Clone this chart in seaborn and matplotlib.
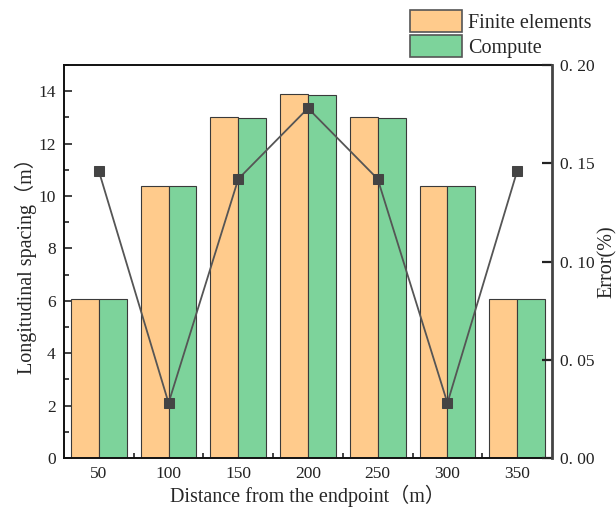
import matplotlib
matplotlib.use("Agg")
import matplotlib.pyplot as plt
import seaborn as sns
import pandas as pd
import numpy as np
from matplotlib.ticker import MultipleLocator, FixedLocator
from matplotlib.patches import Patch

# ---- data ----
distances = [50, 100, 150, 200, 250, 300, 350]
finite_elements = [6.05, 10.39, 13.00, 13.88, 13.00, 10.39, 6.05]
compute = [6.05, 10.38, 12.98, 13.85, 12.98, 10.38, 6.05]
error_pct = [0.146, 0.028, 0.142, 0.178, 0.142, 0.028, 0.146]
series_names = ["Finite elements", "Compute"]
right_ticks = [0.00, 0.05, 0.10, 0.15, 0.20]
right_tick_labels = ["0. 00", "0. 05", "0. 10", "0. 15", "0. 20"]

sns.set_style("ticks")
plt.rcParams['font.family'] = ['Liberation Serif', 'Noto Sans CJK SC', 'DejaVu Sans']
plt.rcParams['axes.unicode_minus'] = False

bar_df = pd.DataFrame({
    "distance": distances * 2,
    "value": finite_elements + compute,
    "series": [series_names[0]] * len(distances) + [series_names[1]] * len(distances),
})
err_df = pd.DataFrame({"distance": distances, "error": error_pct})

colors = ["#FFCB8C", "#7DD39B"]

fig = plt.figure(figsize=(6.16, 5.13), dpi=100)
ax = fig.add_axes([64/616, 1-458/513, (552-64)/616, (458-65)/513])

sns.barplot(data=bar_df, x="distance", y="value", hue="series", native_scale=True,
            palette=colors, saturation=1, width=0.8, edgecolor="#3a3a3a", linewidth=0.8,
            ax=ax, legend=False, zorder=2)

ax.set_xlim(25, 375)
ax.set_ylim(0, 15)
ax.set_xticks(distances)
ax.set_xticklabels([str(d) for d in distances])
ax.xaxis.set_minor_locator(FixedLocator([75, 125, 175, 225, 275, 325]))
ax.yaxis.set_major_locator(MultipleLocator(2))
ax.yaxis.set_minor_locator(MultipleLocator(1))
ax.tick_params(axis="both", which="major", direction="in", length=6, width=1.2,
               labelsize=12.5, colors="#222222", pad=6)
ax.tick_params(axis="both", which="minor", direction="in", length=3.5, width=1.2, colors="#222222")
ax.tick_params(axis="y", which="both", right=False)
ax.tick_params(axis="x", which="both", top=False)
for s in ["left", "bottom", "top"]:
    ax.spines[s].set_linewidth(1.4)
    ax.spines[s].set_color("#111111")
ax.spines["right"].set_visible(False)
ax.set_xlabel("Distance from the endpoint（m）", fontsize=14.5, labelpad=2)
ax.set_ylabel("Longitudinal spacing（m）", fontsize=14.5, labelpad=1)

ax2 = ax.twinx()
sns.lineplot(data=err_df, x="distance", y="error", ax=ax2, color="#555555", linewidth=1.3,
             marker="s", markersize=6.5, markerfacecolor="#444444", markeredgecolor="#444444",
             zorder=5)
ax2.set_ylim(0, 0.20)
ax2.set_xlim(25, 375)
ax2.set_yticks(right_ticks)
ax2.set_yticklabels(right_tick_labels)
ax2.tick_params(axis="y", which="major", direction="in", length=7, width=1.6,
                labelsize=12.5, colors="#222222", pad=6)
ax2.spines["right"].set_linewidth(2.0)
ax2.spines["right"].set_color("#444444")
for s in ["left", "bottom", "top"]:
    ax2.spines[s].set_visible(False)
ax2.set_ylabel("Error(%)", fontsize=14.5, labelpad=2)
ax2.set_xlabel("")

handles = [Patch(facecolor=colors[0], edgecolor="#555555", linewidth=1.2),
           Patch(facecolor=colors[1], edgecolor="#555555", linewidth=1.2)]
fig.legend(handles, series_names, loc="upper left", bbox_to_anchor=(410/616, 1-10/513),
           frameon=False, fontsize=14.5, handlelength=2.6, handleheight=1.3,
           handletextpad=0.3, labelspacing=0.12, borderpad=0, borderaxespad=0)

fig.savefig("out.png", dpi=100)
